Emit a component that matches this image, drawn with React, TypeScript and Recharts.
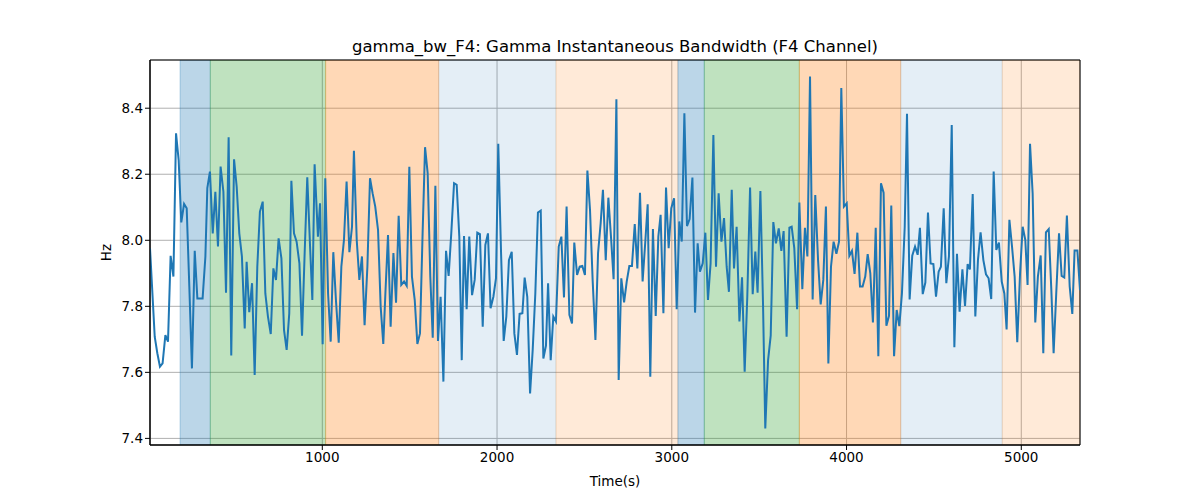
import {
  LineChart,
  Line,
  XAxis,
  YAxis,
  CartesianGrid,
  ReferenceArea,
  Label,
} from "recharts";

// time (s) of each sample
const times = [
  14, 41, 56, 71, 86, 102, 117, 132, 148, 163, 178, 193, 209, 224, 239, 254, 270, 285, 300, 315,
  331, 342, 357, 373, 388, 403, 418, 434, 449, 464, 479, 495, 510, 525, 540, 556, 567, 582, 598, 613,
  628, 643, 659, 674, 689, 705, 720, 735, 750, 766, 781, 796, 811, 823, 838, 853, 869, 884, 899, 914,
  930, 943, 956, 975, 987, 1002, 1017, 1033, 1048, 1063, 1078, 1094, 1109, 1124, 1139, 1155, 1170, 1181, 1197, 1212,
  1227, 1242, 1258, 1273, 1288, 1303, 1319, 1334, 1349, 1361, 1376, 1391, 1407, 1422, 1437, 1452, 1468, 1483, 1498, 1513,
  1529, 1544, 1559, 1574, 1588, 1603, 1618, 1632, 1647, 1662, 1677, 1693, 1708, 1723, 1738, 1754, 1769, 1784, 1798, 1811,
  1826, 1841, 1857, 1872, 1887, 1902, 1918, 1933, 1948, 1963, 1979, 1994, 2007, 2023, 2038, 2053, 2068, 2084, 2099, 2114,
  2129, 2145, 2158, 2173, 2189, 2204, 2219, 2234, 2250, 2265, 2280, 2292, 2307, 2322, 2337, 2353, 2368, 2383, 2398, 2414,
  2429, 2442, 2458, 2473, 2488, 2503, 2517, 2532, 2547, 2563, 2578, 2593, 2606, 2622, 2637, 2652, 2667, 2683, 2696, 2711,
  2727, 2742, 2757, 2772, 2788, 2803, 2818, 2833, 2849, 2862, 2877, 2892, 2908, 2923, 2936, 2952, 2967, 2982, 2997, 3013,
  3028, 3043, 3057, 3072, 3087, 3102, 3118, 3133, 3148, 3161, 3177, 3192, 3207, 3222, 3238, 3253, 3268, 3284, 3299, 3314,
  3327, 3343, 3356, 3371, 3387, 3402, 3417, 3432, 3448, 3463, 3478, 3491, 3507, 3522, 3535, 3551, 3566, 3581, 3596, 3612,
  3627, 3640, 3657, 3673, 3686, 3701, 3717, 3730, 3747, 3762, 3776, 3791, 3806, 3821, 3837, 3852, 3867, 3882, 3896, 3911,
  3926, 3942, 3957, 3970, 3985, 4001, 4016, 4031, 4046, 4062, 4077, 4092, 4107, 4121, 4136, 4151, 4167, 4182, 4197, 4212,
  4228, 4243, 4256, 4272, 4287, 4302, 4317, 4333, 4346, 4361, 4376, 4392, 4407, 4420, 4436, 4451, 4466, 4481, 4497, 4512,
  4527, 4540, 4556, 4571, 4586, 4602, 4617, 4632, 4647, 4663, 4678, 4693, 4706, 4722, 4737, 4752, 4767, 4783, 4798, 4813,
  4828, 4842, 4857, 4872, 4888, 4903, 4916, 4932, 4947, 4962, 4977, 4993, 5008, 5023, 5036, 5050, 5065, 5080, 5095, 5111,
  5126, 5141, 5157, 5172, 5185, 5200, 5216, 5231, 5246, 5261, 5277, 5292, 5305, 5321, 5336,
];

// instantaneous bandwidth (Hz)
const bandwidth = [
  7.976, 7.708, 7.658, 7.617, 7.627, 7.713, 7.693, 7.953, 7.89, 8.324, 8.243, 8.054, 8.11, 8.097, 7.86, 7.612, 7.968, 7.824, 7.824, 7.824,
  7.951, 8.158, 8.208, 8.021, 8.147, 7.981, 8.223, 8.147, 7.841, 8.312, 7.651, 8.245, 8.163, 8.021, 7.951, 7.733, 7.935, 7.782, 7.87, 7.592,
  7.92, 8.087, 8.117, 7.839, 7.769, 7.716, 7.915, 7.88, 8.006, 7.945, 7.728, 7.668, 7.779, 8.18, 8.021, 7.996, 7.93, 7.711, 7.961, 8.191,
  7.981, 7.819, 8.23, 8.011, 8.112, 7.685, 8.188, 7.839, 7.693, 7.964, 7.819, 7.69, 7.92, 8.001, 8.178, 7.964, 8.041, 8.271, 8.001, 7.88,
  7.951, 7.743, 7.92, 8.188, 8.142, 8.102, 8.031, 7.799, 7.686, 7.839, 8.016, 7.738, 7.961, 7.811, 8.074, 7.865, 7.875, 7.862, 8.223, 7.89,
  7.819, 7.686, 7.718, 8.021, 8.282, 8.203, 7.89, 7.705, 8.165, 7.695, 7.829, 7.572, 7.968, 7.892, 8.021, 8.173, 8.168, 8.011, 7.637, 8.013,
  7.791, 8.011, 7.834, 7.88, 8.023, 8.019, 7.738, 7.986, 8.021, 7.794, 7.829, 7.885, 8.292, 7.961, 7.695, 7.769, 7.94, 7.965, 7.718, 7.653,
  7.777, 7.779, 7.887, 7.829, 7.536, 7.668, 7.839, 8.084, 8.09, 7.642, 7.681, 7.87, 7.637, 7.769, 7.754, 7.981, 8.011, 7.827, 8.102, 7.774,
  7.748, 7.993, 7.895, 7.92, 7.922, 7.895, 8.211, 8.092, 7.88, 7.698, 7.961, 8.052, 8.153, 7.94, 8.129, 8.011, 7.882, 8.427, 7.577, 7.885,
  7.812, 7.875, 7.922, 7.922, 8.049, 7.915, 8.144, 7.875, 8.001, 8.109, 7.587, 8.034, 7.771, 8.011, 8.077, 7.779, 8.16, 7.976, 8.097, 8.127,
  7.791, 8.057, 7.996, 8.385, 8.043, 8.064, 8.19, 7.781, 7.991, 7.905, 7.93, 8.023, 7.819, 7.93, 8.319, 7.92, 8.142, 7.996, 8.067, 7.92,
  7.844, 8.153, 7.915, 8.041, 7.754, 7.888, 7.602, 7.829, 8.16, 7.837, 7.966, 7.841, 8.149, 7.809, 7.43, 7.637, 7.711, 8.055, 7.991, 8.036,
  7.968, 8.028, 7.708, 8.038, 8.041, 7.976, 7.791, 8.114, 7.852, 8.038, 7.951, 8.496, 7.821, 8.137, 7.94, 7.806, 7.88, 8.102, 7.627, 7.92,
  7.996, 7.959, 7.996, 8.461, 8.102, 8.112, 7.953, 7.968, 7.898, 8.023, 7.86, 7.86, 7.89, 7.958, 7.9, 7.751, 8.038, 7.649, 8.173, 8.144,
  7.741, 7.771, 8.105, 7.649, 7.789, 7.74, 7.839, 8.041, 8.383, 7.821, 7.953, 7.981, 7.956, 8.038, 7.837, 7.872, 8.084, 7.93, 7.928, 7.829,
  7.905, 7.92, 8.097, 7.87, 7.951, 8.349, 7.676, 7.959, 7.784, 7.912, 7.801, 7.928, 7.912, 8.14, 7.769, 7.94, 8.024, 7.94, 7.897, 7.885,
  7.822, 8.208, 7.971, 7.993, 7.875, 7.839, 7.73, 8.062, 7.981, 7.89, 7.691, 7.9, 8.041, 8.001, 7.865, 8.292, 8.142, 7.751, 7.89, 7.954,
  7.658, 8.024, 8.034, 7.849, 7.658, 7.839, 8.021, 7.892, 7.887, 8.075, 7.86, 7.777, 7.969, 7.969, 7.849,
];

// shaded segments: start, end, colour, opacity
const spanStarts = [186, 359, 1019, 1666, 2337, 3035, 3186, 3730, 4310, 4891];
const spanEnds = [359, 1019, 1666, 2337, 3035, 3186, 3730, 4310, 4891, 5336];
const spanColors = [
  "#1f77b4", "#2ca02c", "#ff7f0e", "#1f77b4", "#ff7f0e",
  "#1f77b4", "#2ca02c", "#ff7f0e", "#1f77b4", "#ff7f0e",
];
const spanAlphas = [0.3, 0.3, 0.3, 0.12, 0.16, 0.3, 0.3, 0.3, 0.12, 0.16];

const xTicks = [1000, 2000, 3000, 4000, 5000];
const yTicks = [7.4, 7.6, 7.8, 8.0, 8.2, 8.4];

const data = times.map((t, i) => ({ t, v: bandwidth[i] }));

const font = "'DejaVu Sans', sans-serif";
const tickStyle = { fontFamily: font, fontSize: 13.5, fill: "#000" };

const App = () => {
  return (
    <div style={{ position: "absolute", left: 0, top: 0, background: "#fff" }}>
      <LineChart
        width={1200}
        height={500}
        data={data}
        margin={{ top: 60, right: 120, left: 95, bottom: 25 }}
      >
        <text
          x={615}
          y={52}
          textAnchor="middle"
          style={{ fontFamily: font, fontSize: 16.5, fill: "#000" }}
        >
          gamma_bw_F4: Gamma Instantaneous Bandwidth (F4 Channel)
        </text>
        {spanStarts.map((s, i) => (
          <ReferenceArea
            key={i}
            x1={s}
            x2={spanEnds[i]}
            fill={spanColors[i]}
            fillOpacity={spanAlphas[i]}
            stroke={spanColors[i]}
            strokeOpacity={spanAlphas[i]}
            ifOverflow="hidden"
          />
        ))}
        <CartesianGrid stroke="#b0b0b0" strokeWidth={1} />
        <XAxis
          dataKey="t"
          type="number"
          domain={[14, 5336]}
          ticks={xTicks}
          allowDataOverflow
          tick={tickStyle}
          tickSize={5}
          height={30}
          axisLine={{ stroke: "#000" }}
          tickLine={{ stroke: "#000" }}
        >
          <Label
            value="Time(s)"
            position="insideBottom"
            offset={-11}
            style={{ fontFamily: font, fontSize: 13.5, fill: "#000" }}
          />
        </XAxis>
        <YAxis
          type="number"
          domain={[7.38, 8.546]}
          ticks={yTicks}
          allowDataOverflow
          tickFormatter={(v: number) => v.toFixed(1)}
          tick={tickStyle}
          tickSize={5}
          width={55}
          axisLine={{ stroke: "#000" }}
          tickLine={{ stroke: "#000" }}
        >
          <Label
            value="Hz"
            angle={-90}
            position="insideLeft"
            offset={11}
            style={{ fontFamily: font, fontSize: 13.5, fill: "#000", textAnchor: "middle" }}
          />
        </YAxis>
        <Line
          type="linear"
          dataKey="v"
          stroke="#1f77b4"
          strokeWidth={2}
          dot={false}
          isAnimationActive={false}
        />
        <ReferenceArea
          x1={14}
          x2={5336}
          y1={7.38}
          y2={8.546}
          fill="none"
          stroke="#000"
          strokeWidth={1}
        />
      </LineChart>
    </div>
  );
};

export default App;
